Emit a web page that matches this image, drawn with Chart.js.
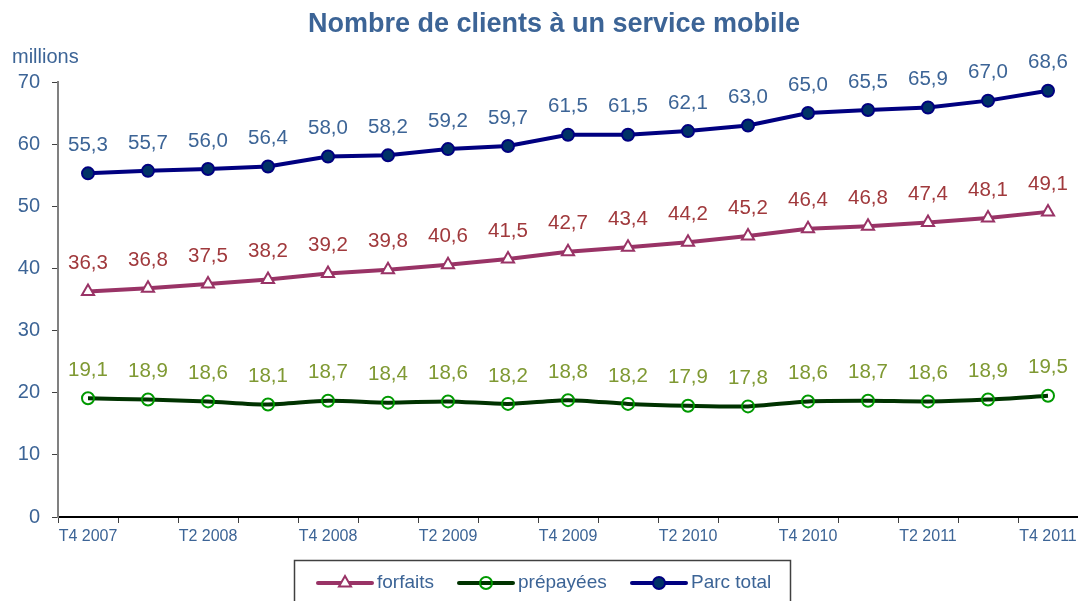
<!DOCTYPE html>
<html>
<head>
<meta charset="utf-8">
<script src="https://cdn.jsdelivr.net/npm/chart.js@4/dist/chart.umd.min.js"></script>
<style>
  html, body { margin: 0; padding: 0; background: #fff; }
  #wrap { width: 1078px; height: 601px; position: relative; }
</style>
</head>
<body>
<div id="wrap"><canvas id="chart" width="1078" height="601"></canvas></div>
<script>
const quarters = [
  'T4 2007', 'T1 2008', 'T2 2008', 'T3 2008', 'T4 2008', 'T1 2009', 'T2 2009', 'T3 2009',
  'T4 2009', 'T1 2010', 'T2 2010', 'T3 2010', 'T4 2010', 'T1 2011', 'T2 2011', 'T3 2011', 'T4 2011'
];
const parcTotal = [55.3, 55.7, 56.0, 56.4, 58.0, 58.2, 59.2, 59.7, 61.5, 61.5, 62.1, 63.0, 65.0, 65.5, 65.9, 67.0, 68.6];
const forfaits = [36.3, 36.8, 37.5, 38.2, 39.2, 39.8, 40.6, 41.5, 42.7, 43.4, 44.2, 45.2, 46.4, 46.8, 47.4, 48.1, 49.1];
const prepayees = [19.1, 18.9, 18.6, 18.1, 18.7, 18.4, 18.6, 18.2, 18.8, 18.2, 17.9, 17.8, 18.6, 18.7, 18.6, 18.9, 19.5];
const yTicks = [0, 10, 20, 30, 40, 50, 60, 70];

const blueText = '#3c6496';
const font = 'Arial, "Liberation Sans", sans-serif';

// value labels above each point, plus title, unit and the framed legend
const decorations = {
  id: 'decorations',
  afterDatasetsDraw(chart) {
    const ctx = chart.ctx;
    ctx.save();
    ctx.font = '20.5px ' + font;
    ctx.textAlign = 'center';
    ctx.textBaseline = 'middle';
    chart.data.datasets.forEach((ds, i) => {
      const meta = chart.getDatasetMeta(i);
      meta.data.forEach((pt, j) => {
        ctx.fillStyle = ds.labelColor;
        ctx.fillText(ds.data[j].toFixed(1).replace('.', ','), pt.x, pt.y - 28);
      });
    });
    ctx.restore();
  },
  afterDraw(chart) {
    const ctx = chart.ctx;
    ctx.save();
    ctx.fillStyle = blueText;
    ctx.textBaseline = 'middle';
    ctx.font = 'bold 27px ' + font;
    ctx.textAlign = 'center';
    ctx.fillText('Nombre de clients à un service mobile', 554, 25);
    ctx.font = '20px ' + font;
    ctx.textAlign = 'left';
    ctx.fillText('millions', 12, 57);

    // legend
    ctx.strokeStyle = '#404040';
    ctx.lineWidth = 1.5;
    ctx.strokeRect(294.5, 560.5, 496, 60);
    const starts = [318, 459, 632];
    chart.data.datasets.forEach((ds, i) => {
      const x = starts[i], y = 583;
      ctx.strokeStyle = ds.borderColor;
      ctx.lineWidth = 4;
      ctx.lineCap = 'round';
      ctx.beginPath();
      ctx.moveTo(x, y);
      ctx.lineTo(x + 54, y);
      ctx.stroke();
      ctx.fillStyle = ds.pointBackgroundColor;
      ctx.strokeStyle = ds.pointBorderColor;
      ctx.lineWidth = ds.pointBorderWidth;
      Chart.helpers.drawPoint(ctx, {
        pointStyle: ds.pointStyle,
        radius: ds.pointRadius,
        borderWidth: ds.pointBorderWidth,
        rotation: 0
      }, x + 27, y);
      ctx.fillStyle = blueText;
      ctx.font = '19px ' + font;
      ctx.textAlign = 'left';
      ctx.fillText(ds.label, x + 59, y);
    });
    ctx.restore();
  }
};

new Chart(document.getElementById('chart'), {
  type: 'line',
  data: {
    labels: quarters,
    datasets: [
      {
        label: 'forfaits',
        data: forfaits,
        borderColor: '#993366',
        borderWidth: 4,
        pointStyle: 'triangle',
        pointRadius: 7,
        pointBorderWidth: 2,
        pointBorderColor: '#993366',
        pointBackgroundColor: '#ffffff',
        labelColor: '#a0393c',
        tension: 0
      },
      {
        label: 'prépayées',
        data: prepayees,
        borderColor: '#003300',
        borderWidth: 4,
        pointStyle: 'circle',
        pointRadius: 6,
        pointBorderWidth: 2,
        pointBorderColor: '#009900',
        pointBackgroundColor: 'rgba(255,255,255,0)',
        labelColor: '#7f9933',
        tension: 0.25
      },
      {
        label: 'Parc total',
        data: parcTotal,
        borderColor: '#000080',
        borderWidth: 4,
        pointStyle: 'circle',
        pointRadius: 6,
        pointBorderWidth: 2,
        pointBorderColor: '#000080',
        pointBackgroundColor: '#003366',
        labelColor: blueText,
        tension: 0
      }
    ]
  },
  options: {
    responsive: false,
    animation: false,
    layout: { autoPadding: false, padding: { top: 82, right: 0, bottom: 54, left: 0 } },
    plugins: {
      legend: { display: false },
      title: { display: false },
      tooltip: { enabled: false }
    },
    scales: {
      x: {
        offset: true,
        grid: { offset: true, drawOnChartArea: false, drawTicks: true, tickLength: 6, color: '#404040' },
        border: { color: '#000000', width: 2 },
        ticks: {
          autoSkip: false,
          maxRotation: 0,
          padding: 4,
          color: blueText,
          font: { family: font, size: 16 },
          callback: (v, i) => (i % 2 === 0 ? quarters[i] : '')
        },
        afterFit: s => { s.height = 30; s.paddingLeft = 0; s.paddingRight = 0; }
      },
      y: {
        min: 0,
        max: 70,
        afterBuildTicks: s => { s.ticks = yTicks.map(v => ({ value: v })); },
        grid: { drawOnChartArea: false, drawTicks: true, tickLength: 6, color: '#404040' },
        border: { color: '#808080', width: 2 },
        ticks: {
          padding: 12,
          color: blueText,
          font: { family: font, size: 20 }
        },
        afterFit: s => { s.width = 58; }
      }
    }
  },
  plugins: [decorations]
});
</script>
</body>
</html>
